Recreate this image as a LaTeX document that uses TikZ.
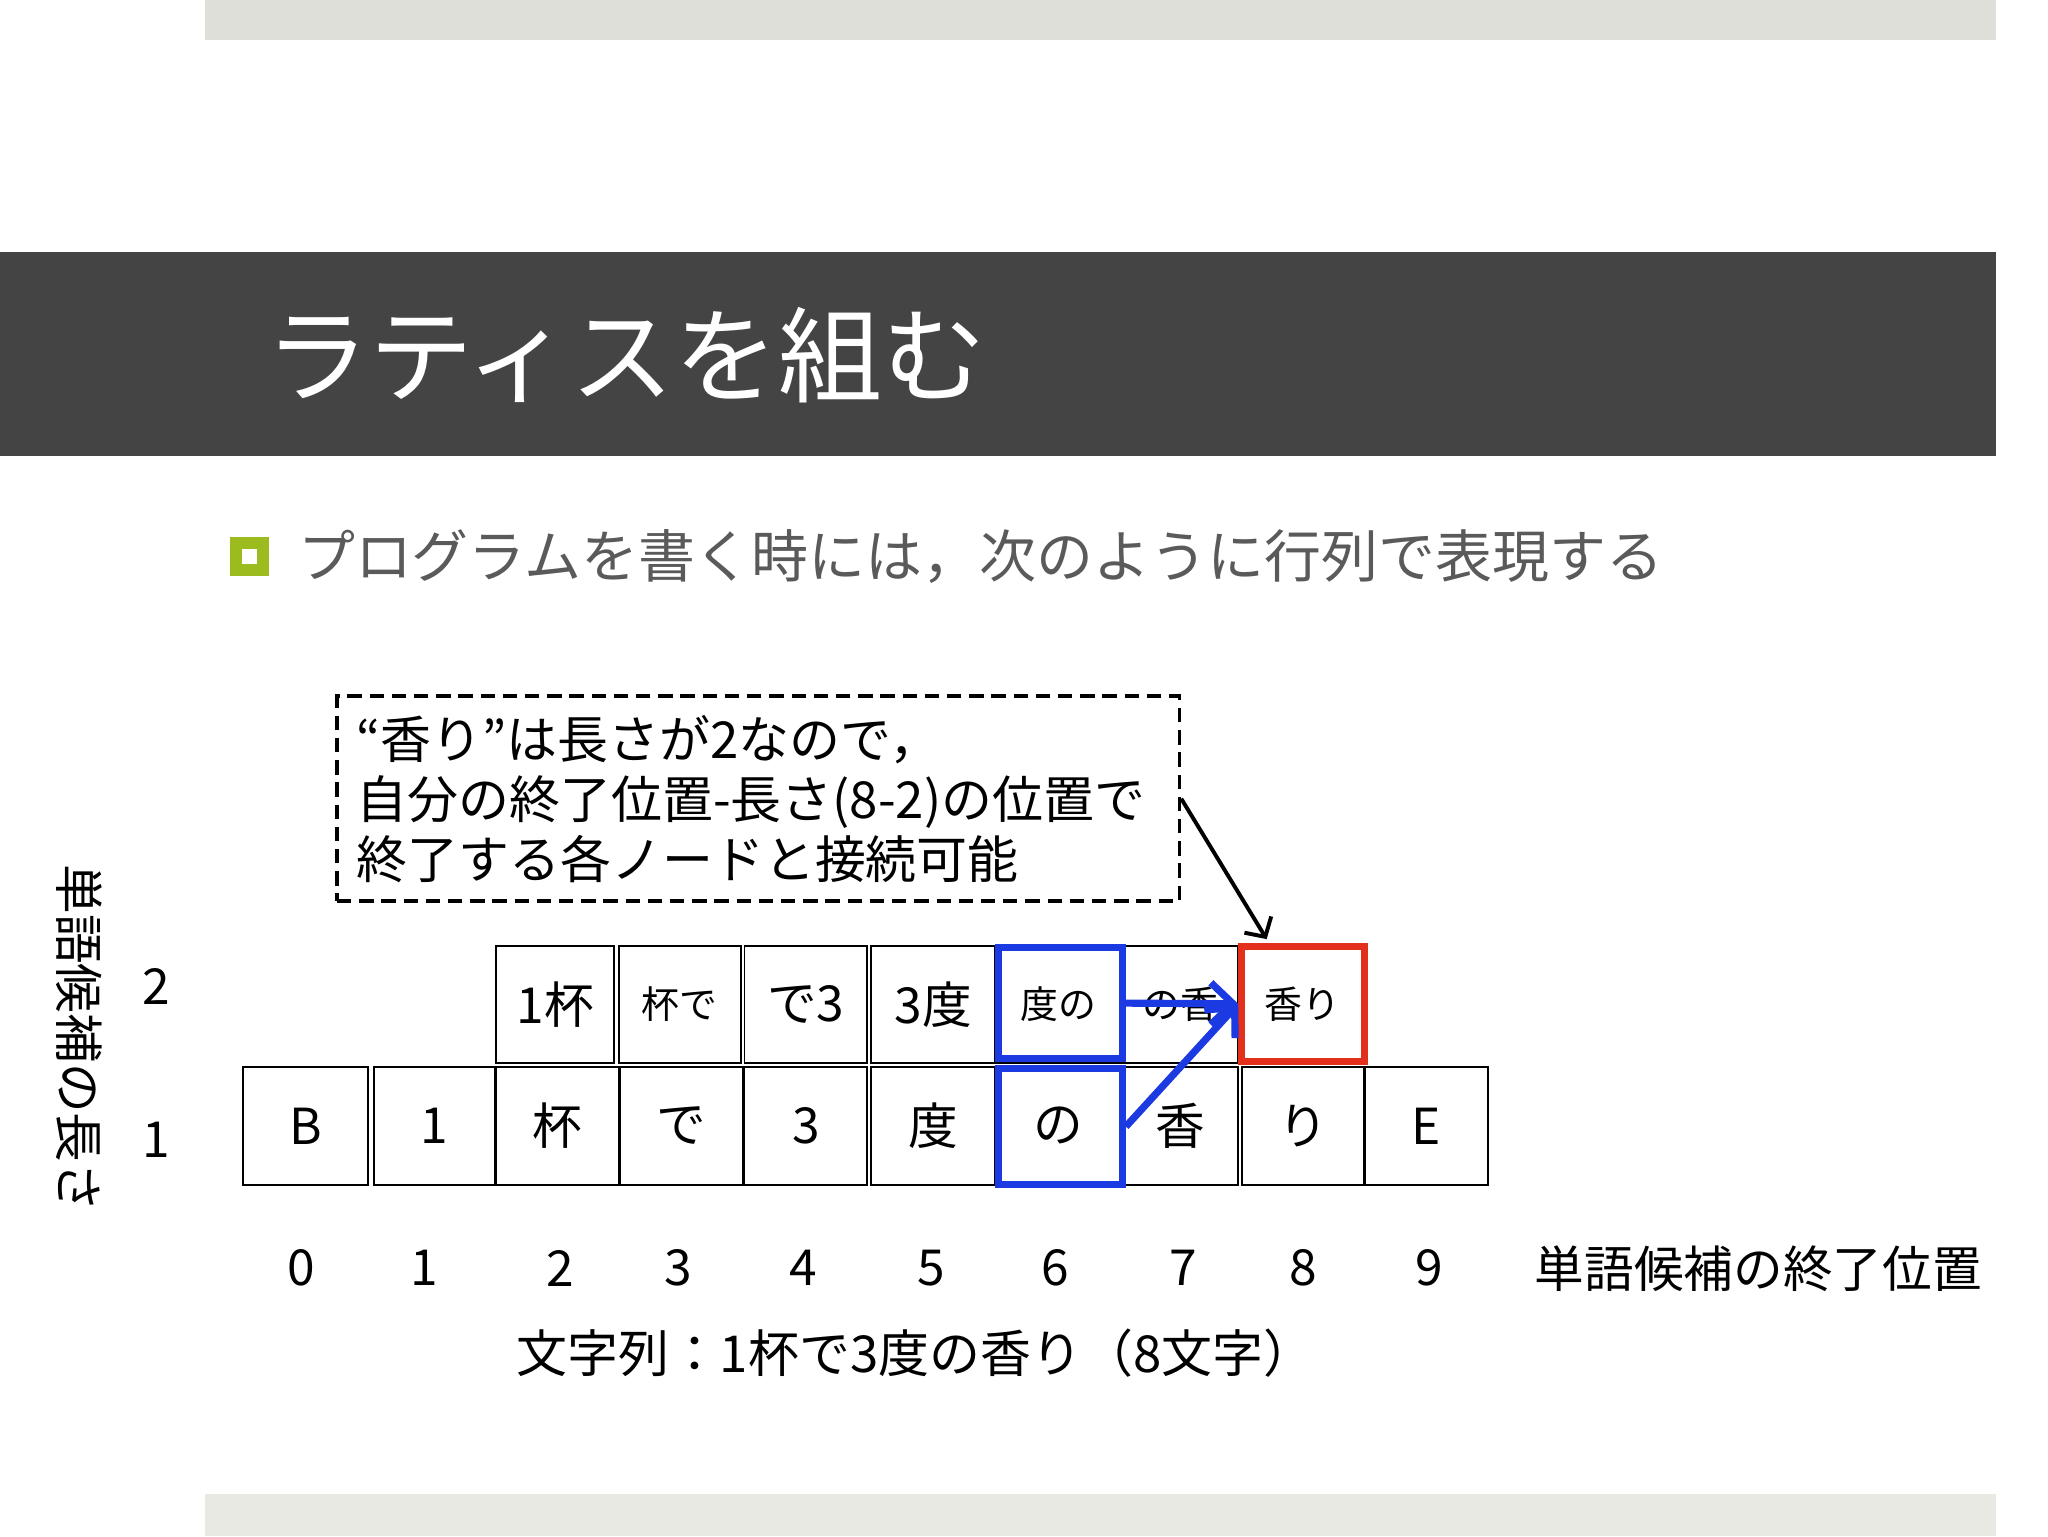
\documentclass[tikz,border=0pt]{standalone}
\usepackage{fontspec}
\setmainfont{Noto Sans CJK JP}
\usetikzlibrary{arrows.meta,calc}
\newcommand{\myfs}[1]{\fontsize{#1}{#1}\selectfont}
\definecolor{topgrey}{RGB}{222,223,216}
\definecolor{botgrey}{RGB}{232,233,227}
\definecolor{band}{RGB}{68,68,68}
\definecolor{bgreen}{RGB}{155,187,31}
\definecolor{textgrey}{RGB}{90,90,90}
\definecolor{hlblue}{RGB}{28,58,226}
\definecolor{hlred}{RGB}{226,48,28}
\tikzset{
  cell/.style={draw=black, line width=1.5pt, inner sep=0pt, minimum height=90pt, font=\myfs{38}},
  smallcell/.style={cell, font=\myfs{29}},
  bluebox/.style={draw=hlblue, line width=5pt, inner sep=0pt},
  redbox/.style={draw=hlred, line width=5pt, inner sep=0pt, font=\myfs{29}},
  axislabel/.style={inner sep=0pt, font=\myfs{38}},
  bluearrow/.style={draw=hlblue, line width=5.5pt, -{Straight Barb[length=17pt,width=32pt,line width=5.5pt]}},
}
\begin{document}
\begin{tikzpicture}[x=1pt,y=-1pt]
\useasboundingbox (0,0) rectangle (1568,1176);
\fill[white] (0,0) rectangle (1568,1176);
\fill[topgrey] (157,0) rectangle (1528,31);
\fill[botgrey] (157,1144) rectangle (1528,1176);
\fill[band] (0,193) rectangle (1528,349);
\node[anchor=west, text=white, font=\myfs{79.5}, inner sep=0pt] (title) at (203,272) {ラティスを組む};

% bullet
\fill[bgreen] (176,411) rectangle (206,441);
\fill[white] (185,420) rectangle (197,432);
\node[anchor=west, text=textgrey, font=\myfs{43.6}, inner sep=0pt] (bullet) at (228,426) {プログラムを書く時には，次のように行列で表現する};

% note box
\node[draw=black, line width=2.8pt, dash pattern=on 11pt off 6pt, minimum width=645pt, minimum height=157pt, text width=615pt, align=left, inner sep=0pt, font=\fontsize{39}{46}\selectfont] (note) at (580.5,611.5)
  {“香り”は長さが2なので，\\自分の終了位置-長さ(8-2)の位置で\\終了する各ノードと接続可能};

% row 1 (length 1)
\node[cell, minimum width=96pt] (cB) at (234,862) {B};
\node[cell, minimum width=93pt] (c1) at (332.5,862) {1};
\node[cell, minimum width=94pt] (chai) at (427,862) {杯};
\node[cell, minimum width=94pt] (cde) at (522,862) {で};
\node[cell, minimum width=94pt] (c3) at (617,862) {3};
\node[cell, minimum width=95pt] (cdo) at (714.5,862) {度};
\node[cell, minimum width=95pt] (cno) at (810.5,862) {の};
\node[cell, minimum width=88pt] (cka) at (904,862) {香};
\node[cell, minimum width=93pt] (cri) at (997.5,862) {り};
\node[cell, minimum width=94pt] (cE) at (1092,862) {E};

% row 2 (length 2)
\node[cell, minimum width=90pt] (d1hai) at (425,769) {1杯};
\node[smallcell, minimum width=93pt] (dhaide) at (520.5,769) {杯で};
\node[cell, minimum width=94pt] (dde3) at (617,769) {で3};
\node[cell, minimum width=95pt] (d3do) at (714.5,769) {3度};
\node[smallcell, minimum width=95pt] (ddono) at (810.5,769) {度の};
\node[smallcell, minimum width=88pt] (dnoka) at (904,769) {の香};

% highlights
\node[bluebox, minimum width=95pt, minimum height=85pt] (bdono) at (812,768) {};
\node[bluebox, minimum width=95pt, minimum height=89pt] (bno) at (812,862.5) {};
\node[redbox, minimum width=94pt, minimum height=88pt] (kaori) at (997.5,768.5) {香り};

% arrows
\draw[bluearrow] (bdono.east) -- (kaori.west);
\draw[bluearrow] (bno.east) -- (kaori.west);
\draw[line width=3pt, -{Straight Barb[length=11pt,width=24pt,line width=3pt]}] (note.east) -- ($(kaori.north west)!0.22!(kaori.north east)+(0,-3)$);

% axes
\node[axislabel] (l2) at (120,755) {2};
\node[axislabel] (l1) at (120,873) {1};
\node[axislabel, rotate=-90] (ylab) at (61,795) {単語候補の長さ};
\node[axislabel] (p0) at (231,971) {0};
\node[axislabel] (p1) at (325,971) {1};
\node[axislabel] (p2) at (429,971) {2};
\node[axislabel] (p3) at (519,971) {3};
\node[axislabel] (p4) at (615,971) {4};
\node[axislabel] (p5) at (713,971) {5};
\node[axislabel] (p6) at (808,971) {6};
\node[axislabel] (p7) at (906,971) {7};
\node[axislabel] (p8) at (998,971) {8};
\node[axislabel] (p9) at (1094,971) {9};
\node[axislabel, anchor=west] (xlab) at (1175,971) {単語候補の終了位置};
\node[axislabel, font=\myfs{39}, anchor=west] (str) at (395,1036) {文字列：1杯で3度の香り（8文字）};
\end{tikzpicture}
\end{document}
